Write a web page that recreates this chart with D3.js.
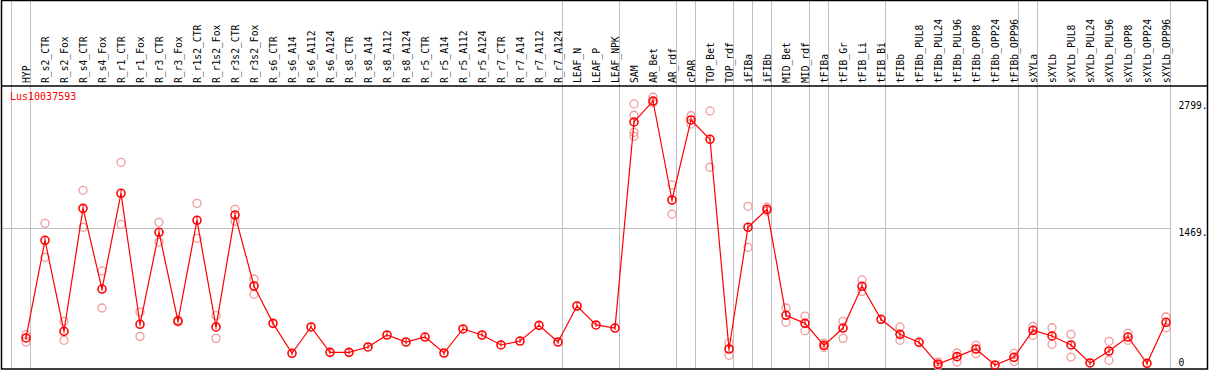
<!DOCTYPE html>
<html>
<head>
<meta charset="utf-8">
<script src="https://cdn.jsdelivr.net/npm/d3@7"></script>
<style>
  body { margin: 0; background: #fff; }
  text { font-family: "DejaVu Sans Mono", monospace; }
</style>
</head>
<body>
<svg id="chart" width="1209" height="370"></svg>
<script>
"use strict";

var title = "Lus10037593";

var categories = ["HYP", "R_s2_CTR", "R_s2_Fox", "R_s4_CTR", "R_s4_Fox", "R_r1_CTR", "R_r1_Fox",
  "R_r3_CTR", "R_r3_Fox", "R_r1s2_CTR", "R_r1s2_Fox", "R_r3s2_CTR", "R_r3s2_Fox",
  "R_s6_CTR", "R_s6_A14", "R_s6_A112", "R_s6_A124", "R_s8_CTR", "R_s8_A14", "R_s8_A112", "R_s8_A124",
  "R_r5_CTR", "R_r5_A14", "R_r5_A112", "R_r5_A124", "R_r7_CTR", "R_r7_A14", "R_r7_A112", "R_r7_A124",
  "LEAF_N", "LEAF_P", "LEAF_NPK", "SAM", "AR_Bet", "AR_rdf", "cPAR", "TOP_Bet", "TOP_rdf",
  "iFIBa", "iFIBb", "MID_Bet", "MID_rdf", "tFIBa", "tFIB_Gr", "tFIB_Li", "tFIB_Bi",
  "tFIBb", "tFIBb_PUL8", "tFIBb_PUL24", "tFIBb_PUL96", "tFIBb_OPP8", "tFIBb_OPP24", "tFIBb_OPP96",
  "sXYLa", "sXYLb", "sXYLb_PUL8", "sXYLb_PUL24", "sXYLb_PUL96", "sXYLb_OPP8", "sXYLb_OPP24", "sXYLb_OPP96"];

// mean expression per sample
var means = [324, 1344, 394, 1678, 835, 1835, 467, 1428, 501, 1553, 439, 1608, 867,
  477, 164, 439, 174, 174, 230, 355, 282, 334, 167, 418, 355, 251, 292, 456, 282,
  658, 460, 428, 2580, 2799, 1765, 2601, 2399, 209, 1480, 1668, 561, 477, 247, 428, 864, 519,
  362, 279, 52, 129, 209, 42, 122, 404, 345, 251, 63, 188, 334, 59, 488];

// individual replicates
var replicates = [[358, 282], [1521, 1166], [498, 300], [1866, 1480], [1024, 637], [2159, 1511], [595, 341],
  [1532, 1326], [510, 490], [1730, 1365], [557, 320], [1668, 1543], [940, 780],
  [], [], [], [], [], [], [], [], [], [], [], [], [], [], [], [],
  [], [], [], [2768, 2650, 2472, 2430], [2838, 2781], [1922, 1616], [2646, 2559], [2695, 2107], [272, 143],
  [1699, 1271], [1690, 1650], [637, 488], [553, 400], [270, 225], [498, 320], [930, 811], [],
  [439, 300], [], [75, 35], [167, 73], [247, 160], [], [164, 80],
  [446, 352], [431, 258], [362, 125], [], [289, 91], [373, 300], [], [543, 431]];

// first sample of each group gets a separator line
var groupStarts = ["HYP", "R_s2_CTR", "LEAF_N", "SAM", "cPAR", "TOP_Bet", "iFIBa", "iFIBb",
  "MID_Bet", "tFIBa", "tFIB_Gr", "tFIBb", "sXYLa", "sXYLb"];

var yTicks = [2799, 1469, 0];
var yTickLabels = ["2799.", "1469.", "0"];

var svg = d3.select("#chart");

var x = d3.scalePoint().domain(categories).range([26, 1166]);
var y = d3.scaleLinear().domain([0, 2799]).range([369, 101]);

var sepX = groupStarts.map(function(c) { return x(c) - 15; });
sepX.push(x(categories[categories.length - 1]) + 4);

var grid = svg.append("g")
  .style("stroke", "#c0c0c0")
  .style("stroke-width", 1);

grid.selectAll(".vsep")
  .data(sepX)
  .enter().append("line")
  .attr("x1", function(d) { return d + 0.5; })
  .attr("x2", function(d) { return d + 0.5; })
  .attr("y1", 0)
  .attr("y2", 369);

grid.append("line")
  .attr("x1", 2).attr("x2", sepX[sepX.length - 1])
  .attr("y1", Math.round(y(1469)) + 0.5)
  .attr("y2", Math.round(y(1469)) + 0.5);

// frame
svg.append("rect")
  .attr("x", 1.5).attr("y", 0.5)
  .attr("width", 1206).attr("height", 368.5)
  .style("fill", "none").style("stroke", "#000").style("stroke-width", 1.5);
svg.append("line")
  .attr("x1", 1).attr("x2", 1208)
  .attr("y1", 86).attr("y2", 86)
  .style("stroke", "#000").style("stroke-width", 1.5);

// sample labels, rotated
svg.append("g").selectAll("text")
  .data(categories)
  .enter().append("text")
  .attr("transform", function(d) { return "translate(" + (x(d) + 3.5) + ",83) rotate(-90)"; })
  .style("font-size", "9.7px")
  .style("fill", "#000")
  .text(function(d) { return d; });

// right-hand value labels
svg.append("g").selectAll("text")
  .data(yTicks)
  .enter().append("text")
  .attr("x", 1178.5)
  .attr("y", function(d, i) { return i == 2 ? 365.5 : y(d) + 7.5; })
  .style("font-size", "9.7px")
  .style("fill", "#000")
  .text(function(d, i) { return yTickLabels[i]; });

svg.append("text")
  .attr("x", 10).attr("y", 100)
  .style("font-size", "10px")
  .style("fill", "#ff0000")
  .text(title);

// replicate circles
var repPoints = [];
replicates.forEach(function(reps, i) {
  reps.forEach(function(v) { repPoints.push([categories[i], v]); });
});

svg.append("g").selectAll("circle")
  .data(repPoints)
  .enter().append("circle")
  .attr("cx", function(d) { return x(d[0]); })
  .attr("cy", function(d) { return y(d[1]); })
  .attr("r", 4)
  .style("fill", "none")
  .style("stroke", "#f09a9a")
  .style("stroke-width", 1.3);

var line = d3.line()
  .x(function(d, i) { return x(categories[i]); })
  .y(function(d) { return y(d); });

svg.append("path")
  .datum(means)
  .attr("d", line)
  .style("fill", "none")
  .style("stroke", "#ff0000")
  .style("stroke-width", 1.2);

var meanG = svg.append("g").selectAll("g")
  .data(means)
  .enter().append("g")
  .attr("transform", function(d, i) { return "translate(" + x(categories[i]) + "," + y(d) + ")"; });

meanG.append("circle")
  .attr("r", 4)
  .style("fill", "none")
  .style("stroke", "#ff0000")
  .style("stroke-width", 1.6);

meanG.append("line")
  .attr("x1", 0).attr("x2", 0)
  .attr("y1", -4).attr("y2", 2)
  .style("stroke", "#ff0000")
  .style("stroke-width", 1);
</script>
</body>
</html>
